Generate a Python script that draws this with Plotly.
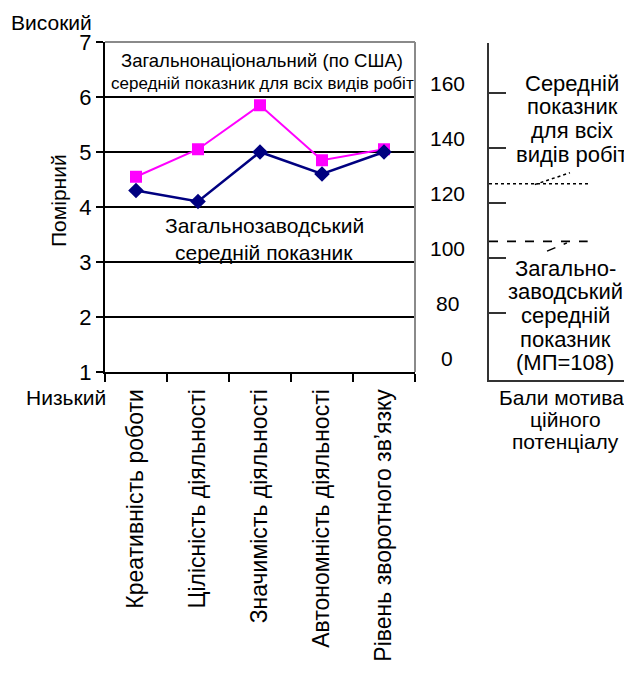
import plotly.graph_objects as go

# ---------------- data ----------------
categories = ["Креативність роботи", "Цілісність діяльності", "Значимість діяльності",
              "Автономність діяльності", "Рівень зворотного зв’язку"]
national = [4.55, 5.05, 5.85, 4.85, 5.05]   # загальнонаціональний (по США)
factory = [4.3, 4.1, 5.0, 4.6, 5.0]         # загальнозаводський
y_ticks = [1, 2, 3, 4, 5, 6, 7]
right_label_levels = [1, 2, 3, 4, 5, 6]
right_labels = ["0", "80", "100", "120", "140", "160"]
mp_ticks = [80, 100, 120, 140, 160]
national_mp = 127
factory_mp = 106

# page body has an 8px margin: work in page pixels and shift
OFF = 8
W, H = 632 - OFF, 690 - OFF
MT, MB = 22, 292
PH = H - MT - MB
FONT = "Liberation Sans, Arial, sans-serif"


def px(x):
    return (x - OFF) / W


def py(y):
    return (H - MB - (y - OFF)) / PH


fig = go.Figure()

fig.add_trace(go.Scatter(
    x=categories, y=national, mode="lines+markers",
    line=dict(color="#FF00FF", width=2),
    marker=dict(symbol="square", size=12, color="#FF00FF"),
    cliponaxis=False, showlegend=False))
fig.add_trace(go.Scatter(
    x=categories, y=factory, mode="lines+markers",
    line=dict(color="#000080", width=2.5),
    marker=dict(symbol="diamond", size=12, color="#000080"),
    cliponaxis=False, showlegend=False))

# right-hand motivating-potential scale
fig.add_trace(go.Scatter(x=[0, 0.706], y=[national_mp, national_mp], mode="lines",
                         line=dict(color="black", width=1.5, dash="dot"),
                         xaxis="x2", yaxis="y2", showlegend=False))
fig.add_trace(go.Scatter(x=[0.32, 0.566], y=[national_mp - 0.3, national_mp + 4], mode="lines",
                         line=dict(color="black", width=1.5, dash="dot"),
                         xaxis="x2", yaxis="y2", showlegend=False))
fig.add_trace(go.Scatter(x=[0, 0.69], y=[factory_mp, factory_mp], mode="lines",
                         line=dict(color="black", width=1.8, dash="dash"),
                         xaxis="x2", yaxis="y2", showlegend=False))
fig.add_trace(go.Scatter(x=[0.406, 0.545], y=[factory_mp - 3.5, factory_mp - 0.5], mode="lines",
                         line=dict(color="black", width=1.5, dash="dash"),
                         xaxis="x2", yaxis="y2", showlegend=False))

annotations = []


def A(text, x, y, size, xanchor="center", angle=0):
    annotations.append(dict(text=text, x=px(x), y=py(y), xref="paper", yref="paper",
                            xanchor=xanchor, yanchor="middle", showarrow=False,
                            textangle=angle, font=dict(size=size, color="black", family=FONT)))


A("Високий", 51, 23, 21)
A("Низький", 108, 397, 21, xanchor="right")
A("Помірний", 58, 201, 21, angle=-90)
A("Загальнонаціональний (по США)", 262, 61, 18.5)
A("середній показник для всіх видів робіт", 262, 83, 17)
A("Загальнозаводський", 264, 225, 21)
A("середній показник", 264, 252, 21)
for i, t in enumerate(["Середній", "показник", "для всіх", "видів робіт"]):
    A(t, 572, 83 + i * 23.7, 22)
for i, t in enumerate(["Загально-", "заводський", "середній", "показник", "(МП=108)"]):
    A(t, 565, 268 + i * 23.7, 22)
for i, t in enumerate(["Бали мотива-", "ційного", "потенціалу"]):
    A(t, 565, 397 + i * 22, 21)

for lvl, t in zip(right_label_levels, right_labels):
    annotations.append(dict(text=t, x=px(447), y=lvl, xref="paper", yref="y",
                            xanchor="center", yanchor="middle", yshift=14, showarrow=False,
                            font=dict(size=21, color="black", family=FONT)))

shapes = [
    dict(type="line", xref="x domain", yref="y domain", x0=0, x1=1, y0=1, y1=1,
         line=dict(color="#8a8a8a", width=2), layer="above"),
    dict(type="line", xref="x domain", yref="y domain", x0=1, x1=1, y0=0, y1=1,
         line=dict(color="#8a8a8a", width=2), layer="above"),
]

fig.update_layout(
    width=W, height=H,
    margin=dict(l=0, r=0, t=MT, b=MB, pad=0),
    paper_bgcolor="white", plot_bgcolor="white",
    font=dict(family=FONT, color="black"),
    showlegend=False,
    xaxis=dict(domain=[px(105), px(415)], type="category", range=[-0.5, 4.5],
               tickson="boundaries", ticks="outside", ticklen=8, tickwidth=2, tickcolor="black",
               showline=True, linecolor="black", linewidth=2, showgrid=False,
               tickangle=-90, ticklabelstandoff=6,
               tickfont=dict(size=23, family=FONT, color="black")),
    yaxis=dict(domain=[py(372), py(42)], range=[1, 7], tickvals=y_ticks,
               ticks="outside", ticklen=7, tickwidth=2, tickcolor="black",
               showline=True, linecolor="black", linewidth=2,
               showgrid=True, gridcolor="black", gridwidth=2, zeroline=False,
               tickfont=dict(size=22, family=FONT, color="black")),
    xaxis2=dict(domain=[px(489), 1.0], anchor="y2", range=[0, 1],
                showline=True, linecolor="#333333", linewidth=1.5,
                showgrid=False, zeroline=False, showticklabels=False, ticks=""),
    yaxis2=dict(domain=[py(380), py(43)], anchor="x2", range=[55.6, 178.2], side="left",
                showline=True, linecolor="#333333", linewidth=1.5,
                tickvals=mp_ticks, ticks="inside", ticklen=17, tickwidth=1.5, tickcolor="#333333",
                showticklabels=False, showgrid=False, zeroline=False),
    annotations=annotations,
    shapes=shapes,
)

fig.write_html("out.html")
